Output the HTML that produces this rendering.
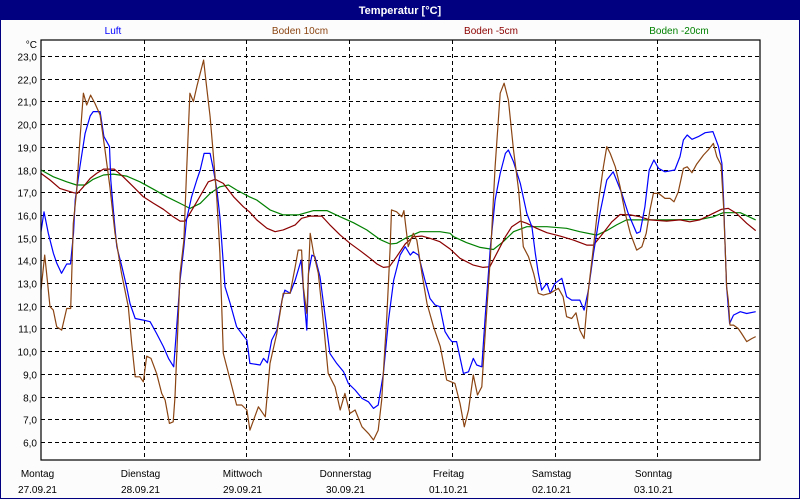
<!DOCTYPE html>
<html><head><meta charset="utf-8"><style>
body{margin:0;padding:0;background:#fff;}
svg{display:block;font-family:"Liberation Sans",sans-serif;}
</style></head><body>
<svg id="chart" width="800" height="500" viewBox="0 0 800 500">
<rect x="0" y="0" width="800" height="500" fill="#fcfcfc"/>
<rect x="0.5" y="0.5" width="799" height="498" fill="none" stroke="#000080" stroke-width="1"/>
<rect x="0" y="0" width="800" height="20" fill="#000080"/>
<text x="400" y="14" text-anchor="middle" fill="#fff" font-size="11" font-weight="bold">Temperatur [°C]</text>
<text x="113" y="34" text-anchor="middle" fill="#0000ff" font-size="10">Luft</text>
<text x="300" y="34" text-anchor="middle" fill="#8b4513" font-size="10">Boden 10cm</text>
<text x="491" y="34" text-anchor="middle" fill="#8b0000" font-size="10">Boden -5cm</text>
<text x="679" y="34" text-anchor="middle" fill="#008000" font-size="10">Boden -20cm</text>
<text x="37" y="48" text-anchor="end" font-size="10">°C</text>
<rect x="41" y="40" width="719" height="420" fill="#fff"/>
<g id="grid"></g><g id="series"></g><g id="labels"></g>
<rect x="41" y="40" width="719" height="420" fill="none" stroke="#000" stroke-width="1.2"/>
</svg>
<script>
const yTicks=[6,7,8,9,10,11,12,13,14,15,16,17,18,19,20,21,22,23];
const dayNames=["Montag","Dienstag","Mittwoch","Donnerstag","Freitag","Samstag","Sonntag"];
const dayDates=["27.09.21","28.09.21","29.09.21","30.09.21","01.10.21","02.10.21","03.10.21"];
const luftH=[0,0.7,1.7,2.9,3.7,4.8,6.0,6.9,7.6,8.0,9.1,10.3,11.5,12.2,13.8,14.7,16.0,16.3,17.1,17.7,18.9,20.0,20.8,22.0,23.9,25.5,27.0,28.6,29.8,31.0,31.6,32.5,33.4,34.0,35.2,36.4,37.2,38.1,39.5,40.3,41.1,41.8,43.0,44.2,45.7,46.9,48.1,48.8,51.2,52.0,52.9,53.9,55.1,56.3,57.0,58.2,59.4,60.8,61.5,62.1,62.5,63.3,64.0,65.2,66.4,67.5,69.1,70.7,71.8,73.4,75.0,76.5,77.7,78.8,80.0,81.2,82.4,83.9,85.1,86.3,87.0,88.2,89.7,90.9,92.1,93.2,94.4,95.4,96.0,97.1,98.7,99.9,101.0,101.8,103.0,103.8,105.0,106.1,107.3,108.5,109.2,110.4,112.0,113.5,114.7,115.5,116.2,117.0,118.2,119.0,120.1,121.7,122.8,124.0,125.9,126.9,127.9,129.1,130.6,132.2,133.7,135.7,137.2,139.2,140.0,141.1,142.1,143.2,144.3,145.8,148.1,149.3,150.1,151.0,152.1,153.6,155.2,157.0,158.3,159.1,159.5,159.8,160.2,160.9,161.8,163.4,164.9,167.0];
const luftV=[15.26,16.14,15.19,14.31,13.87,13.43,13.84,13.84,15.19,16.66,18.12,19.59,20.36,20.55,20.55,19.45,19.01,17.54,15.78,14.6,13.72,12.84,12.1,11.44,11.37,11.3,10.78,10.2,9.68,9.31,10.78,13.13,14.6,15.78,16.8,17.54,17.98,18.71,18.71,17.98,17.1,15.92,12.84,12.1,11.08,10.78,10.49,9.46,9.39,9.68,9.49,10.49,10.93,12.25,12.69,12.55,13.13,14.01,12.25,10.93,13.43,14.23,14.16,13.28,11.52,9.9,9.46,9.09,8.58,8.29,7.92,7.77,7.48,7.63,9.02,11.37,13.13,14.23,14.6,14.23,14.38,14.23,13.13,12.32,12.03,11.96,10.86,10.56,10.42,10.42,9.02,9.09,9.68,9.39,9.31,11.52,14.6,16.66,17.83,18.71,18.86,18.34,17.39,16.07,15.48,14.31,13.43,12.69,12.99,12.55,12.99,13.21,12.4,12.25,12.25,11.81,12.69,14.31,16.07,17.54,17.9,16.95,16.07,15.19,15.26,16.36,17.98,18.42,18.05,17.9,17.98,18.57,19.3,19.52,19.33,19.45,19.62,19.67,19.01,18.27,16.66,14.89,12.84,11.22,11.59,11.74,11.66,11.74];
const b10H=[0,0.86,1.48,2.1,2.88,3.66,4.83,6.0,6.93,7.55,8.33,9.1,9.9,10.67,11.6,12.62,13.8,14.96,16.1,17.3,18.8,20.4,21.2,22.0,23.1,23.9,24.7,25.7,27.0,28.2,29.0,30.0,30.9,31.3,32.5,33.4,34.0,34.8,35.6,36.4,37.2,38.0,38.7,39.5,40.3,41.1,41.8,42.6,44.2,45.7,46.9,48.1,48.8,50.8,52.4,53.5,55.1,56.6,58.2,59.4,60.1,60.9,61.3,62.1,62.9,63.7,64.8,66.0,67.1,68.7,69.9,71.0,72.2,73.4,75.0,76.5,77.7,78.8,79.6,80.8,81.6,81.9,83.1,84.3,84.8,85.8,87.0,87.8,89.0,90.2,91.7,93.3,94.8,96.7,97.9,98.9,99.9,101.0,102.0,103.0,103.8,105.0,106.1,107.3,108.2,109.2,110.4,111.6,112.7,113.9,115.1,116.2,117.4,118.9,120.9,122.0,122.8,124.0,125.0,125.9,126.9,127.9,129.1,130.3,131.4,132.2,133.0,134.2,135.3,136.5,137.7,139.2,140.4,141.4,142.3,143.1,144.3,145.8,147.0,147.9,148.9,150.1,151.0,152.1,153.2,154.8,155.9,157.1,157.9,158.9,159.5,159.8,160.2,160.6,161.0,161.8,162.9,163.7,164.9,166.1,167.0];
const b10V=[12.69,14.23,13.13,11.96,11.81,11.08,10.93,11.88,11.88,15.63,17.09,19.3,21.36,20.84,21.28,20.91,20.4,18.86,17.24,15.19,13.43,11.96,10.34,8.87,8.87,8.65,9.78,9.68,9.02,8.14,7.85,6.82,6.89,7.99,13.43,14.89,17.83,21.36,20.99,21.65,22.24,22.82,21.65,20.33,18.57,16.66,14.31,9.9,8.73,7.63,7.63,7.41,6.52,7.55,7.11,9.46,10.78,12.55,12.55,13.72,14.45,14.45,12.84,11.66,15.19,14.31,13.43,11.22,9.02,8.43,7.41,8.14,7.26,7.41,6.67,6.38,6.09,6.52,7.85,11.52,14.6,16.22,16.14,15.92,16.19,14.6,15.19,14.89,13.43,12.1,11.08,10.2,8.73,8.58,7.7,6.67,7.41,8.95,8.07,8.43,10.78,14.16,18.12,21.36,21.8,21.06,18.86,17.1,14.6,14.16,13.43,12.55,12.47,12.55,12.77,12.4,11.52,11.44,11.69,10.93,10.56,12.69,14.6,16.66,18.12,19.01,18.71,18.12,17.24,16.07,15.19,14.45,14.6,15.19,16.22,16.95,16.95,16.73,16.73,16.58,17.02,18.05,18.12,17.86,18.24,18.64,18.86,19.15,18.57,18.2,16.36,14.89,12.84,12.25,11.15,11.15,11.0,10.78,10.42,10.56,10.64];
const b5H=[0,2.1,4.4,7.6,8.5,9.9,11.5,13.0,14.6,17.1,19.2,21.6,23.9,26.3,28.6,30.9,32.5,33.7,34.8,36.4,38.0,39.1,40.7,42.6,45.0,47.3,48.7,50.4,52.8,54.7,56.6,59.4,60.9,62.9,65.6,67.5,69.9,72.2,74.6,76.9,78.5,80.0,81.4,83.1,85.1,87.0,89.0,90.9,93.2,95.6,97.9,101.0,103.3,104.9,106.5,108.5,110.0,112.0,113.5,115.8,118.2,121.3,124.4,127.5,129.1,131.4,133.4,135.3,137.7,140.0,142.3,146.2,149.3,151.6,153.9,156.3,159.0,160.6,162.5,164.9,167.0];
const b5V=[17.83,17.54,17.17,16.98,16.95,17.24,17.61,17.83,18.02,18.02,17.68,17.24,16.8,16.51,16.25,15.92,15.73,15.73,16.07,16.58,17.1,17.46,17.57,17.39,16.8,16.36,16.14,15.78,15.41,15.26,15.34,15.56,15.85,15.95,15.95,15.56,15.11,14.75,14.42,14.09,13.84,13.69,13.72,14.16,14.72,15.04,15.07,14.97,14.82,14.5,14.09,13.79,13.69,13.72,14.31,15.04,15.48,15.73,15.63,15.41,15.22,15.07,14.89,14.67,14.67,15.22,15.7,16.02,16.0,15.92,15.78,15.73,15.78,15.7,15.78,16.0,16.25,16.29,16.07,15.63,15.31];
const b20H=[0,2.9,6.0,8.3,10.3,12.2,14.6,16.9,20.0,23.1,26.3,29.4,32.5,34.8,37.2,39.5,41.8,43.8,45.7,48.7,50.4,53.5,56.6,60.1,63.7,66.8,69.9,73.0,76.1,79.2,81.6,83.1,85.5,88.6,93.2,95.6,96.4,99.4,102.6,105.7,108.0,110.4,113.5,118.2,122.8,125.9,129.9,132.2,134.5,136.8,142.3,146.2,153.9,157.1,159.4,163.4,167.0];
const b20V=[17.98,17.68,17.46,17.32,17.32,17.57,17.76,17.8,17.71,17.46,17.13,16.8,16.51,16.29,16.51,16.95,17.24,17.32,17.1,16.8,16.66,16.22,16.0,16.0,16.19,16.19,15.92,15.66,15.34,14.92,14.72,14.75,15.01,15.26,15.26,15.19,15.04,14.78,14.57,14.48,14.82,15.26,15.48,15.48,15.41,15.26,15.11,15.31,15.56,15.78,15.78,15.78,15.8,15.92,16.1,16.1,15.78];

const NS="http://www.w3.org/2000/svg";
const X0=41,X1=760,TMAX=168;
function xScale(h){return X0+(h/TMAX)*(X1-X0);}
function yScale(v){return 56+(23-v)*(442-56)/17;}
function mk(tag,attrs,parent){const e=document.createElementNS(NS,tag);for(const k in attrs)e.setAttribute(k,attrs[k]);parent.appendChild(e);return e;}
const grid=document.getElementById('grid'),labels=document.getElementById('labels'),series=document.getElementById('series');
yTicks.forEach(v=>{
  const y=Math.round(yScale(v))+0.5;
  const l=mk('line',{x1:X0,x2:X1,y1:y,y2:y,stroke:'#000','stroke-width':1,'stroke-dasharray':'4,3'},grid);
  
  
  const t=mk('text',{x:37,y:y+4,'text-anchor':'end','font-size':10},labels);
  t.textContent=v.toFixed(1).replace('.',',');
  
  
});
dayNames.forEach((d,i)=>{
  const x=Math.round(xScale(i*24))+0.5;
  if(i>0){
    const l=mk('line',{x1:x,x2:x,y1:40,y2:460,stroke:'#000','stroke-width':1,'stroke-dasharray':'4,3'},grid);
    
    
  }
  const t=mk('text',{x:x-4,y:477,'text-anchor':'middle','font-size':10},labels);
  t.textContent=d;
  
  
  const t2=mk('text',{x:x-4,y:493,'text-anchor':'middle','font-size':10},labels);
  t2.textContent=dayDates[i];
  
  
});
function drawLine(H,V,color,name){
  const pts=H.map((h,i)=>xScale(h).toFixed(1)+','+yScale(V[i]).toFixed(1)).join(' ');
  const p=mk('polyline',{points:pts,fill:'none',stroke:color,'stroke-width':1.2,'stroke-linejoin':'round'},series);
  
  
}
drawLine(b20H,b20V,'#008000','series-boden-20cm');
drawLine(b5H,b5V,'#8b0000','series-boden-5cm');
drawLine(luftH,luftV,'#0000ff','series-luft');
drawLine(b10H,b10V,'#8b4513','series-boden-10cm');
</script>
</body></html>
